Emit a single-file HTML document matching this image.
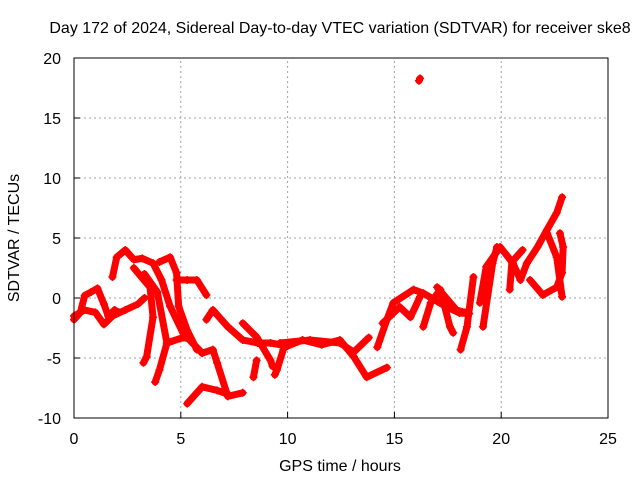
<!DOCTYPE html>
<html><head><meta charset="utf-8"><style>
body{margin:0;background:#fff}
svg text{font-family:"Liberation Sans",sans-serif;font-size:16px;fill:#000}
</style></head><body>
<svg id="chart" width="640" height="480" viewBox="0 0 640 480" xmlns="http://www.w3.org/2000/svg">
<rect width="640" height="480" fill="#fff"/>
<text x="340" y="33" text-anchor="middle">Day 172 of 2024, Sidereal Day-to-day VTEC variation (SDTVAR) for receiver ske8</text>
<g id="grid"></g>
<g id="series"></g>
<rect x="74" y="58" width="534" height="360" fill="none" stroke="#000" stroke-width="1"/>
<g id="ticks"></g>
<text x="340" y="471" text-anchor="middle">GPS time / hours</text>
<text x="19" y="238" text-anchor="middle" transform="rotate(-90 19 238)">SDTVAR / TECUs</text>
</svg>
<script>
const xTicks=[0,5,10,15,20,25];
const yTicks=[-10,-5,0,5,10,15,20];
const trackA=[[0,-1.8],[0.3,-1.2],[0.5,0.2],[0.8,0.5],[1.1,0.8],[1.4,-0.5],[1.6,-1.5],[1.9,-1],[2.1,-1.2]];
const trackB=[[0,-1.5],[0.5,-1],[1,-1.2],[1.4,-2.2],[1.8,-1.5],[2.4,-1],[3,-0.5],[3.3,0]];
const trackC=[[1.8,1.75],[2.0,3.4],[2.4,4.0],[2.8,3.2],[3.2,3.3],[3.7,2.9],[4.1,1.5],[4.5,-0.7],[5.1,-2.9],[6.0,-4.6],[6.5,-4.3],[6.7,-5.4],[7.2,-8.2],[7.9,-7.9]];
const trackD=[[5.3,-8.8],[6.0,-7.4],[6.7,-7.7],[7.2,-8.0]];
const trackE=[[2.8,2.5],[3.56,0.9],[3.7,-1.6],[3.4,-4.9],[3.25,-5.4]];
const trackF=[[3.3,2.0],[3.9,0.5],[4.35,-3.75],[4.0,-6],[3.8,-7]];
const trackG=[[4.35,-3.75],[5.1,-3.3],[5.4,-3.4]];
const trackH=[[4.0,3.0],[4.5,3.4],[4.8,2.1],[4.9,-0.7],[5.3,-2.7],[5.75,-4.3]];
const trackI=[[4.8,1.5],[5.3,1.5],[5.75,1.5],[6.2,0.25]];
const trackJ=[[6.2,-1.8],[6.5,-1],[7.2,-2.4],[7.9,-3.5],[8.6,-3.75],[9.2,-3.75],[10,-4],[10.7,-3.5],[11.6,-3.9],[12.45,-3.5],[13.1,-4.9],[13.7,-6.6],[14.65,-5.8]];
const trackK=[[7.9,-2.1],[8.55,-3.25],[9.2,-5.2],[9.3,-5.7]];
const trackL=[[8.55,-5.2],[8.4,-6.6]];
const trackM=[[9.8,-4.3],[9.5,-6],[9.4,-6.4]];
const trackN=[[9.65,-3.75],[11.05,-3.5],[12.45,-3.75],[13.1,-4.5],[13.8,-3.3]];
const trackO=[[14.2,-4.1],[14.65,-1.8],[14.95,-0.4],[15.9,0.7],[16.35,0.4],[17.45,-0.75],[18.05,-1.25],[18.5,-1.3]];
const trackP=[[14.45,-2.1],[15.25,-0.75],[15.75,-1.6],[16.2,0.1]];
const trackQ=[[16.35,-2.4],[16.7,-0.4],[17.15,0.7],[17.6,-2.4],[17.75,-2.9]];
const trackR=[[17,0.9],[17.9,-1],[18.3,-1.2]];
const trackS=[[18.1,-4.3],[18.4,-2.4],[18.7,1.75]];
const trackT=[[19,-0.4],[19.3,2.6],[19.95,4.25],[20.55,2.9],[20.9,1.5],[21.2,2.9],[21.7,4.25],[22.15,5.7],[22.6,7.1],[22.85,8.4]];
const trackU=[[19.15,-2.4],[19.6,2.9],[19.8,4.25]];
const trackV=[[20.4,0.7],[20.5,3.0],[21.0,4.0]];
const trackW=[[21.35,1.5],[21.95,0.25],[22.6,0.9],[22.85,2.1],[22.9,4.25],[22.75,5.4]];
const trackX=[[22.15,5.4],[22.6,3.4],[22.85,0.1]];
const outlier=[[16.15,18.1],[16.2,18.3]];
const tracks=[trackA,trackB,trackC,trackD,trackE,trackF,trackG,trackH,trackI,trackJ,trackK,trackL,trackM,trackN,trackO,trackP,trackQ,trackR,trackS,trackT,trackU,trackV,trackW,trackX,outlier];
const NS='http://www.w3.org/2000/svg';
const X0=74,X1=608,Y0=418,Y1=58,xmin=0,xmax=25,ymin=-10,ymax=20;
const sx=v=>X0+(v-xmin)/(xmax-xmin)*(X1-X0);
const sy=v=>Y0-(v-ymin)/(ymax-ymin)*(Y0-Y1);
function mk(t,a,p){const e=document.createElementNS(NS,t);for(const k in a)e.setAttribute(k,a[k]);p.appendChild(e);return e;}
const grid=document.getElementById('grid'),ticks=document.getElementById('ticks'),ser=document.getElementById('series');
xTicks.forEach(v=>{
 if(v>xmin&&v<xmax){const g=mk('line',{x1:sx(v),x2:sx(v),y1:Y0,y2:Y1,stroke:'#a0a0a0','stroke-dasharray':'2,3'},grid);
 }
 const t=mk('line',{x1:sx(v),x2:sx(v),y1:Y0,y2:Y0-6,stroke:'#000'},ticks);
 
 const l=mk('text',{x:sx(v),y:Y0+26,'text-anchor':'middle'},ticks);l.textContent=v;
 
});
yTicks.forEach(v=>{
 if(v>ymin&&v<ymax){const g=mk('line',{x1:X0,x2:X1,y1:sy(v),y2:sy(v),stroke:'#a0a0a0','stroke-dasharray':'2,3'},grid);
 }
 const t=mk('line',{x1:X0,x2:X0+6,y1:sy(v),y2:sy(v),stroke:'#000'},ticks);
 
 const l=mk('text',{x:X0-13,y:sy(v)+6,'text-anchor':'end'},ticks);l.textContent=v;
 
});
tracks.forEach((tr,i)=>{
 if(tr.length>1){const pl=mk('polyline',{points:tr.map(p=>sx(p[0])+','+sy(p[1])).join(' '),fill:'none',stroke:'#ff0000','stroke-width':7,'stroke-linejoin':'round','stroke-linecap':'round'},ser);
 }
 tr.forEach(p=>{const m=mk('path',{d:`M${sx(p[0])-4},${sy(p[1])}h8M${sx(p[0])},${sy(p[1])-4}v8`,stroke:'#ff0000','stroke-width':1.5},ser);
 });
});
</script>
</body></html>
